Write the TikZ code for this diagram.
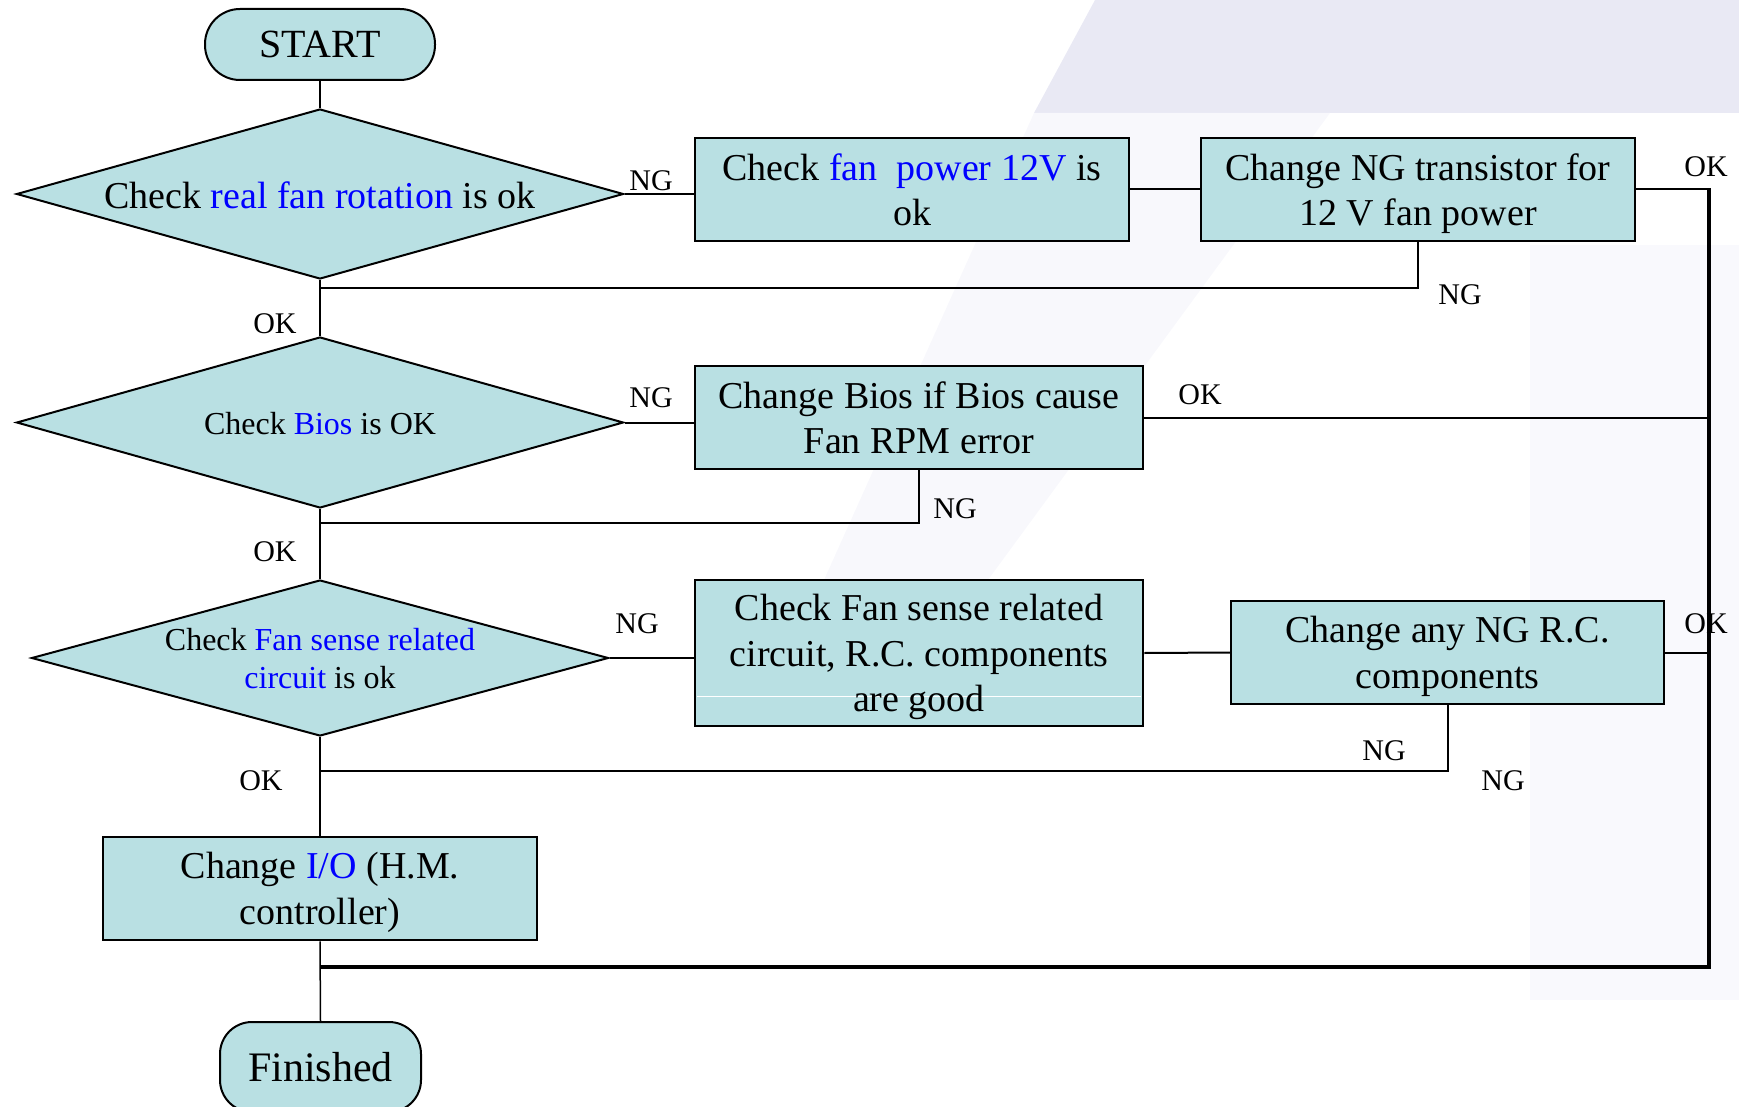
\documentclass[tikz,border=0pt]{standalone}
\usepackage{fontspec}
\setmainfont{Liberation Serif}
\usetikzlibrary{shapes.geometric}
\definecolor{boxfill}{RGB}{185,224,227}
\definecolor{wmA}{RGB}{233,233,244}
\definecolor{wmB}{RGB}{248,248,252}
\definecolor{wmC}{RGB}{249,249,253}
\begin{document}
\begin{tikzpicture}[x=1pt,y=-1pt,
  box/.style={draw, line width=2.5pt, fill=boxfill, rectangle, inner sep=0pt, align=center,
              text depth=0pt, font=\fontsize{38}{45.5}\selectfont},
  dia/.style={draw, line width=2pt, fill=boxfill, diamond, inner sep=0pt},
  diatext/.style={align=center, inner sep=0pt},
  term/.style={draw, line width=2pt, fill=boxfill, rectangle, inner sep=0pt},
  conn/.style={line width=2pt},
  thinconn/.style={line width=1.5pt},
  thickconn/.style={line width=4pt, line join=miter},
  lbl/.style={font=\fontsize{30}{36}\selectfont, inner sep=0pt}
]
\useasboundingbox (0,0) rectangle (1739,1107);
% faint background watermark
\fill[wmA] (1095,0) -- (1739,0) -- (1739,113) -- (1034,113) -- cycle;
\fill[wmB] (1034,113) -- (1330,113) -- (900,700) -- (770,700) -- cycle;
\fill[wmC] (1530,245) rectangle (1739,1000);

% terminals
\node[term, rounded corners=35pt, minimum width=230pt, minimum height=71pt,
      font=\fontsize{40}{48}\selectfont] (start) at (320,44.5) {START};
\node[term, rounded corners=32pt, minimum width=201pt, minimum height=90pt,
      font=\fontsize{42}{50}\selectfont] (fin) at (320.5,1067) {Finished};

% decisions
\node[dia, minimum width=607pt, minimum height=170pt] (d1) at (320,194) {};
\node[diatext, font=\fontsize{38}{45.5}\selectfont] (d1t) at (320,195)
  {Check \textcolor{blue}{real fan rotation} is ok};
\node[dia, minimum width=607pt, minimum height=171pt] (d2) at (320,422.5) {};
\node[diatext, font=\fontsize{32}{38}\selectfont] (d2t) at (320,424)
  {Check \textcolor{blue}{Bios} is OK};
\node[dia, minimum width=577pt, minimum height=156pt] (d3) at (320,658) {};
\node[diatext, font=\fontsize{32}{38}\selectfont] (d3t) at (320,659)
  {Check \textcolor{blue}{Fan sense related}\\\textcolor{blue}{circuit} is ok};

% process boxes
\node[box, minimum width=434pt, minimum height=103pt] (b1) at (912,189.5)
  {Check \textcolor{blue}{fan\ \ power 12V} is\\ok};
\node[box, minimum width=434pt, minimum height=103pt] (b2) at (1418,189.5)
  {Change NG transistor for\\12 V fan power};
\node[box, minimum width=448pt, minimum height=103pt] (b3) at (919,417.5)
  {Change Bios if Bios cause\\Fan RPM error};
\node[box, minimum width=448pt, minimum height=146pt] (b4) at (919,653) {};
\draw[white, line width=1pt] (697,696) -- (1141,696);
\node[box, draw=none, fill=none] (b4t) at (919,653)
  {Check Fan sense related\\circuit, R.C. components\\are good};
\node[box, minimum width=433pt, minimum height=103pt] (b5) at (1447.5,652.5)
  {Change any NG R.C.\\components};
\node[box, minimum width=434pt, minimum height=103pt] (b6) at (320,888.5)
  {Change \textcolor{blue}{I/O} (H.M.\\controller)};

% junction coordinates
\coordinate (j1) at (320,288);
\coordinate (j2) at (320,523);
\coordinate (j3) at (320,771);
\coordinate (j4) at (320,967);
\coordinate (rt) at (1709,967);

% main flow
\draw[thinconn] (start.south) -- (d1.north);
\draw[conn] (d1.south) -- (d2.north);
\draw[conn] (d2.south) -- (d3.north);
\draw[conn] (d3.south) -- (b6.north);
\draw[thinconn] (b6.south) -- (fin.north);

% NG branches
\draw[conn] (d1.east) -- (d1.east -| b1.west);
\draw[conn] (b1.east) -- (b2.west);
\draw[conn] (b2.south) |- (j1);
\draw[conn] (d2.east) -- (d2.east -| b3.west);
\draw[conn] (b3.south) |- (j2);
\draw[conn] (d3.east) -- (d3.east -| b4.west);
\draw[conn] (b4.east) -- (b5.west);
\draw[conn] (b5.south) |- (j3);

% OK returns
\draw[conn] (b2.east) -- (b2.east -| rt);
\draw[thickconn] ([yshift=1pt]b2.east -| rt) -- (rt) -- (j4);
\draw[conn] (b3.east) -- (b3.east -| rt);
\draw[conn] (b5.east) -- (b5.east -| rt);

% labels
\node[lbl] (ng1) at (651,181) {NG};
\node[lbl] (ng2) at (651,398) {NG};
\node[lbl] (ng3) at (637,624) {NG};
\node[lbl] (ng4) at (1460,295) {NG};
\node[lbl] (ng5) at (955,509) {NG};
\node[lbl] (ng6) at (1384,751) {NG};
\node[lbl] (ng7) at (1503,781) {NG};
\node[lbl] (ok1) at (1706,167) {OK};
\node[lbl] (ok2) at (1200,395) {OK};
\node[lbl] (ok3) at (1706,624) {OK};
\node[lbl] (ok4) at (275,324) {OK};
\node[lbl] (ok5) at (275,552) {OK};
\node[lbl] (ok6) at (261,781) {OK};
\end{tikzpicture}
\end{document}
